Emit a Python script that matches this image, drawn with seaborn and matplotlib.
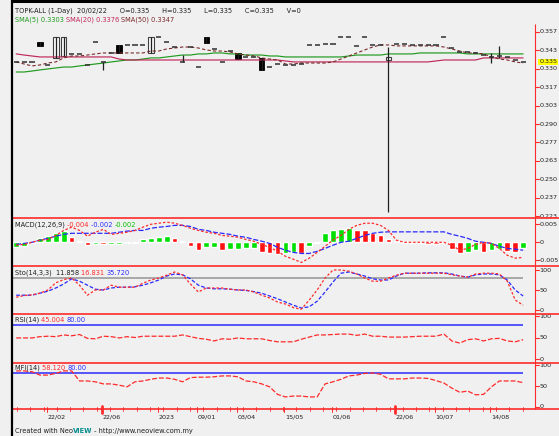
import numpy as np
import matplotlib
matplotlib.use("Agg")
import matplotlib.pyplot as plt
import matplotlib.transforms as mtransforms
import seaborn as sns

sns.set_style("white")
plt.rcParams['font.family'] = ['DejaVu Sans']

W, H = 559, 436
BG = '#f0f0f0'
RED = '#ff2a2a'
BLUE = '#2a2aff'

# ---- price data (one bar per trading day) ----
open_ = [0.3350, 0.3350, 0.3350, 0.3495, 0.3328, 0.3379, 0.3393, 0.3408, 0.3408, 0.3328,
         0.3495, 0.3350, 0.3415, 0.3473, 0.3473, 0.3473, 0.3473, 0.3415, 0.3531, 0.3495,
         0.3458, 0.3350, 0.3458, 0.3313, 0.3531, 0.3444, 0.3350, 0.3429, 0.3415, 0.3386,
         0.3386, 0.3379, 0.3313, 0.3335, 0.3328, 0.3328, 0.3335, 0.3473, 0.3473, 0.3480,
         0.3480, 0.3531, 0.3531, 0.3466, 0.3531, 0.3473, 0.3473, 0.3364, 0.3480, 0.3480,
         0.3473, 0.3473, 0.3473, 0.3473, 0.3531, 0.3451, 0.3422, 0.3422, 0.3415, 0.3400,
         0.3386, 0.3393, 0.3386, 0.3364, 0.3350]
high = [0.3350, 0.3350, 0.3350, 0.3495, 0.3328, 0.3531, 0.3531, 0.3408, 0.3408, 0.3328,
        0.3495, 0.3350, 0.3415, 0.3473, 0.3473, 0.3473, 0.3473, 0.3531, 0.3531, 0.3495,
        0.3458, 0.3400, 0.3458, 0.3313, 0.3531, 0.3444, 0.3350, 0.3429, 0.3415, 0.3386,
        0.3386, 0.3379, 0.3313, 0.3335, 0.3328, 0.3328, 0.3335, 0.3473, 0.3473, 0.3480,
        0.3480, 0.3531, 0.3531, 0.3466, 0.3531, 0.3473, 0.3473, 0.3458, 0.3480, 0.3480,
        0.3473, 0.3473, 0.3473, 0.3473, 0.3531, 0.3451, 0.3422, 0.3422, 0.3415, 0.3400,
        0.3415, 0.3466, 0.3386, 0.3364, 0.3350]
low = [0.3350, 0.3350, 0.3350, 0.3466, 0.3328, 0.3379, 0.3393, 0.3408, 0.3408, 0.3328,
       0.3495, 0.3292, 0.3415, 0.3415, 0.3473, 0.3473, 0.3473, 0.3415, 0.3531, 0.3495,
       0.3458, 0.3350, 0.3458, 0.3313, 0.3487, 0.3444, 0.3350, 0.3429, 0.3371, 0.3386,
       0.3386, 0.3292, 0.3313, 0.3335, 0.3328, 0.3328, 0.3335, 0.3473, 0.3473, 0.3480,
       0.3480, 0.3531, 0.3531, 0.3466, 0.3531, 0.3473, 0.3473, 0.2263, 0.3480, 0.3480,
       0.3473, 0.3473, 0.3473, 0.3473, 0.3531, 0.3451, 0.3422, 0.3422, 0.3415, 0.3400,
       0.3342, 0.3379, 0.3386, 0.3364, 0.3350]
close = [0.3350, 0.3350, 0.3350, 0.3466, 0.3328, 0.3531, 0.3531, 0.3408, 0.3408, 0.3328,
         0.3495, 0.3350, 0.3415, 0.3415, 0.3473, 0.3473, 0.3473, 0.3531, 0.3531, 0.3495,
         0.3458, 0.3350, 0.3458, 0.3313, 0.3487, 0.3444, 0.3350, 0.3429, 0.3371, 0.3386,
         0.3386, 0.3292, 0.3313, 0.3335, 0.3328, 0.3328, 0.3335, 0.3473, 0.3473, 0.3480,
         0.3480, 0.3531, 0.3531, 0.3466, 0.3531, 0.3473, 0.3473, 0.3386, 0.3480, 0.3480,
         0.3473, 0.3473, 0.3473, 0.3473, 0.3531, 0.3451, 0.3422, 0.3422, 0.3415, 0.3400,
         0.3386, 0.3393, 0.3386, 0.3364, 0.3350]

ma_green = [0.3277, 0.3277, 0.3284, 0.3292, 0.3299, 0.3306, 0.3313, 0.3313, 0.3321, 0.3328,
            0.3335, 0.3342, 0.3350, 0.3357, 0.3364, 0.3364, 0.3371, 0.3379, 0.3379, 0.3386,
            0.3393, 0.3400, 0.3400, 0.3408, 0.3408, 0.3415, 0.3415, 0.3408, 0.3408, 0.3400,
            0.3400, 0.3400, 0.3393, 0.3393, 0.3386, 0.3386, 0.3386, 0.3386, 0.3386, 0.3386,
            0.3386, 0.3386, 0.3393, 0.3400, 0.3400, 0.3400, 0.3400, 0.3408, 0.3408, 0.3408,
            0.3408, 0.3415, 0.3415, 0.3415, 0.3415, 0.3415, 0.3415, 0.3408, 0.3408, 0.3408,
            0.3408, 0.3408, 0.3408, 0.3408, 0.3408]
ma_crimson = [0.3408, 0.3400, 0.3393, 0.3386, 0.3386, 0.3386, 0.3386, 0.3386, 0.3386, 0.3386,
              0.3386, 0.3386, 0.3386, 0.3371, 0.3364, 0.3364, 0.3364, 0.3364, 0.3364, 0.3364,
              0.3364, 0.3364, 0.3364, 0.3364, 0.3364, 0.3364, 0.3364, 0.3364, 0.3364, 0.3364,
              0.3364, 0.3364, 0.3364, 0.3364, 0.3357, 0.3350, 0.3350, 0.3350, 0.3350, 0.3350,
              0.3350, 0.3350, 0.3350, 0.3350, 0.3350, 0.3350, 0.3350, 0.3350, 0.3350, 0.3350,
              0.3350, 0.3350, 0.3350, 0.3357, 0.3364, 0.3364, 0.3364, 0.3364, 0.3364, 0.3379,
              0.3379, 0.3379, 0.3379, 0.3379, 0.3379]
ma_maroon = [0.3350, 0.3335, 0.3321, 0.3328, 0.3342, 0.3350, 0.3379, 0.3393, 0.3393, 0.3400,
             0.3408, 0.3415, 0.3415, 0.3415, 0.3415, 0.3415, 0.3415, 0.3429, 0.3429, 0.3444,
             0.3451, 0.3458, 0.3458, 0.3451, 0.3437, 0.3429, 0.3429, 0.3422, 0.3408, 0.3400,
             0.3393, 0.3379, 0.3371, 0.3364, 0.3335, 0.3335, 0.3342, 0.3342, 0.3342, 0.3342,
             0.3350, 0.3371, 0.3393, 0.3415, 0.3437, 0.3458, 0.3473, 0.3473, 0.3466, 0.3466,
             0.3466, 0.3466, 0.3466, 0.3466, 0.3458, 0.3444, 0.3429, 0.3415, 0.3415, 0.3408,
             0.3386, 0.3371, 0.3364, 0.3350, 0.3342]

price_ticks = [0.3567, 0.3433, 0.3300, 0.3167, 0.3033, 0.2900, 0.2767, 0.2633, 0.2500, 0.2367, 0.2233]

# ---- MACD (values in thousandths) ----
macd_k = [-0.8, -0.6, 0.0, 0.6, 0.8, 1.9, 3.3, 4.2, 3.3, 1.7,
          2.8, 3.6, 2.2, 2.5, 2.8, 3.3, 4.2, 5.0, 5.3, 5.6,
          5.3, 4.7, 3.9, 3.3, 2.8, 2.5, 1.9, 1.7, 1.4, 0.8,
          0.3, -0.6, -1.4, -2.5, -3.9, -4.7, -5.6, -4.4, -2.8, -1.1,
          0.6, 1.9, 3.6, 4.7, 5.3, 5.3, 4.7, 3.3, 0.6, 0.0,
          0.0, 0.0, 0.0, 0.0, 0.0, -0.8, -2.2, -1.7, -0.6, 0.0,
          -0.3, -1.7, -3.6, -4.4, -4.2]
signal_k = [-0.6, -0.3, 0.0, 0.6, 1.1, 1.7, 2.2, 2.5, 2.5, 2.5,
            2.5, 2.5, 2.5, 2.8, 3.1, 3.3, 3.3, 3.9, 4.2, 4.4,
            4.7, 4.7, 4.4, 3.6, 3.3, 2.8, 2.5, 2.2, 1.7, 1.4,
            0.8, 0.3, -0.3, -1.4, -2.2, -2.8, -3.1, -3.1, -2.5, -1.7,
            -0.8, 0.0, 0.3, 1.1, 1.9, 2.5, 2.8, 2.9, 2.9, 2.9,
            2.9, 2.9, 2.9, 2.9, 2.9, 2.2, 1.7, 1.1, 0.3, 0.0,
            -0.3, -1.1, -1.7, -1.9, -2.2]
hist_k = [-1.4, -1.1, -0.3, 1.1, 1.7, 2.5, 3.1, 1.4, 0.3, -0.8,
          -0.4, -0.5, -0.4, -0.35, -0.3, -0.25, 0.8, 1.1, 1.4, 1.7,
          1.1, 0.3, -1.1, -2.2, -1.4, -1.2, -2.1, -1.9, -1.8, -1.7,
          -1.6, -2.8, -3.1, -3.3, -2.9, -2.8, -3.1, -1.1, -0.3, 2.5,
          3.3, 3.8, 3.9, 3.4, 3.3, 2.5, 1.9, 0.8, 0.4, -0.3,
          -0.2, -0.3, -0.4, -0.5, -0.3, -1.9, -3.1, -2.8, -2.2, -2.8,
          -2.2, -1.9, -2.5, -2.6, -1.7]

# ---- Stochastic, RSI, MFI ----
stoch_k = [32, 36, 38, 42, 50, 68, 76, 80, 62, 37,
           50, 50, 62, 57, 57, 57, 67, 75, 80, 87,
           95, 88, 65, 45, 55, 55, 55, 52, 50, 50,
           45, 37, 30, 20, 15, 6, 2, 25, 50, 80,
           100, 100, 97, 90, 80, 72, 72, 80, 87, 92,
           92, 92, 92, 92, 92, 88, 85, 82, 90, 92,
           92, 90, 72, 25, 11.9]
stoch_d = [37, 37, 37, 42, 47, 55, 65, 78, 72, 62,
           52, 50, 55, 57, 57, 58, 62, 68, 75, 85,
           90, 88, 78, 62, 55, 53, 53, 52, 50, 49,
           46, 42, 35, 28, 20, 12, 5, 8, 22, 45,
           70, 92, 95, 90, 85, 78, 75, 75, 85, 92,
           92, 92, 93, 93, 93, 90, 85, 82, 88, 90,
           90, 88, 75, 50, 35]
rsi = [49, 49, 49, 52, 53, 52, 56, 54, 57, 48,
       47, 53, 52, 49, 52, 50, 53, 53, 53, 53,
       53, 56, 52, 48, 46, 42, 47, 46, 49, 47,
       47, 47, 43, 40, 40, 40, 46, 51, 56, 56,
       57, 58, 58, 55, 58, 53, 53, 51, 51, 51,
       52, 53, 53, 53, 58, 42, 37, 45, 47, 42,
       47, 48, 42, 40, 45]
mfi = [86, 86, 84, 76, 76, 80, 86, 86, 62, 62,
       60, 55, 55, 52, 48, 60, 62, 66, 69, 69,
       66, 60, 70, 71, 71, 72, 74, 74, 72, 62,
       60, 55, 48, 30, 24, 26, 26, 24, 24, 55,
       60, 66, 74, 76, 80, 81, 78, 67, 67, 67,
       69, 69, 68, 63, 57, 45, 35, 38, 29, 30,
       48, 62, 62, 62, 58]

date_ticks = [4, 11, 18, 23, 28, 34, 40, 48, 53, 60]
date_labels = ["22/02", "22/06", "2023", "09/01", "03/04", "15/05", "01/06", "22/06", "10/07", "14/08"]
bold_ticks = [11, 48]

idx = np.arange(len(close))
o, h, l, c = map(np.array, (open_, high, low, close))

fig = plt.figure(figsize=(W / 100, H / 100), dpi=100, facecolor=BG)


def panel(top, bottom, left=13, right=535):
    ax = fig.add_axes([left / W, 1 - bottom / H, (right - left) / W, (bottom - top) / H])
    ax.set_facecolor(BG)
    for s in ax.spines.values():
        s.set_visible(False)
    ax.set_xticks([])
    ax.set_yticks([])
    ax.set_xlim(-0.4, 65.5)
    return ax


def right_labels(ax, vals, labels):
    tr = mtransforms.blended_transform_factory(ax.transAxes, ax.transData)
    for v, s in zip(vals, labels):
        ax.plot([1.0, 1.007], [v, v], color=RED, lw=0.8, transform=tr, clip_on=False)
        ax.text(1.008, v, s, transform=tr, fontsize=4.6, va='center', ha='left', color='#202020')


ax_p = panel(3, 218)
ax_m = panel(218, 266)
ax_s = panel(266, 314)
ax_r = panel(314, 362.7)
ax_f = panel(362.7, 409.3)

# ---- price panel ----
ax_p.set_ylim(0.2219, 0.3777)
sns.lineplot(x=idx, y=ma_green, ax=ax_p, color='#1f9a1f', lw=0.85, legend=False)
sns.lineplot(x=idx, y=ma_crimson, ax=ax_p, color='#c0285a', lw=0.85, legend=False)
sns.lineplot(x=idx, y=ma_maroon, ax=ax_p, color='#7a2a2a', lw=0.8, linestyle=(0, (3, 2)), legend=False)

wick = h > l
ax_p.vlines(idx[wick], l[wick], h[wick], color='#202020', lw=0.9)
flat = o == c
ax_p.hlines(c[flat], idx[flat] - 0.32, idx[flat] + 0.32, color='#303030', lw=1.1)
down = c < o
ax_p.bar(idx[down], (o - c)[down], bottom=c[down], width=0.7, color='black', edgecolor='black', lw=0.6)
up = c > o
ax_p.bar(idx[up], (c - o)[up], bottom=o[up], width=0.7, color='#fafafa', edgecolor='#404040', lw=0.8)

right_labels(ax_p, price_ticks, ["%.3f" % v for v in price_ticks])
trp = mtransforms.blended_transform_factory(ax_p.transAxes, ax_p.transData)
ax_p.text(1.008, c[-1], "%.3f" % c[-1], transform=trp, fontsize=4.6, va='center', ha='left',
          color='#202020', bbox=dict(facecolor='#ffff00', edgecolor='none', pad=0.6))

# ---- MACD panel ----
ax_m.set_ylim(-0.00658, 0.00675)
hist = np.array(hist_k) / 1000
rising = np.concatenate([[True], np.diff(hist) >= 0])
ax_m.bar(idx, hist, width=0.72, color=np.where(rising, '#00e000', '#ff1010'))
sns.lineplot(x=idx, y=np.array(signal_k) / 1000, ax=ax_m, color=BLUE, lw=0.9,
             linestyle=(0, (4, 1.5)), legend=False)
sns.lineplot(x=idx, y=np.array(macd_k) / 1000, ax=ax_m, color=RED, lw=0.9,
             linestyle=(0, (2, 1.5)), legend=False)
right_labels(ax_m, [0.005, 0.0, -0.005], ["0.005", "0", "-0.005"])

# ---- Stochastic ----
ax_s.set_ylim(-10, 110)
ax_s.hlines(80, -0.4, 64, color='#a8a8a8', lw=1.4)
sns.lineplot(x=idx, y=stoch_d, ax=ax_s, color=BLUE, lw=0.9, linestyle=(0, (3, 1.5)), legend=False)
sns.lineplot(x=idx, y=stoch_k, ax=ax_s, color=RED, lw=0.9, linestyle=(0, (2, 1.5)), legend=False)
right_labels(ax_s, [100, 50, 0], ["100", "50", "0"])

# ---- RSI ----
ax_r.set_ylim(-8.6, 104.7)
ax_r.hlines(80, -0.4, 64, color=BLUE, lw=1.1)
sns.lineplot(x=idx, y=rsi, ax=ax_r, color=RED, lw=0.9, linestyle=(0, (4, 1.5)), legend=False)
right_labels(ax_r, [100, 50, 0], ["100", "50", "0"])

# ---- MFI ----
ax_f.set_ylim(-5.5, 105.5)
ax_f.hlines(80, -0.4, 64, color=BLUE, lw=1.1)
sns.lineplot(x=idx, y=mfi, ax=ax_f, color=RED, lw=0.9, linestyle=(0, (4, 1.5)), legend=False)
right_labels(ax_f, [100, 50, 0], ["100", "50", "0"])

# date axis
trf = mtransforms.blended_transform_factory(ax_f.transData, ax_f.transAxes)
for x in np.arange(0.1, 65, 1.68):
    ax_f.plot([x, x], [-0.045, 0.045], color=RED, lw=0.6, transform=trf, clip_on=False)
for t, s in zip(date_ticks, date_labels):
    x = t - 0.15
    ax_f.plot([x, x], [-0.06, 0.06], color=RED, lw=0.7, transform=trf, clip_on=False)
    ax_f.text(x + 0.1, -0.12, s, transform=trf, fontsize=4.6, ha='left', va='top', color='#202020')
for t in bold_ticks:
    ax_f.plot([t - 0.15, t - 0.15], [-0.07, 0.07], color=RED, lw=2.0, transform=trf, clip_on=False)

# ---- frame, separators and header texts (pixel overlay) ----
ov = fig.add_axes([0, 0, 1, 1], zorder=10)
ov.set_xlim(0, W)
ov.set_ylim(H, 0)
ov.axis('off')
ov.patch.set_alpha(0)

ov.hlines([218, 266, 314, 362.7, 409.3], 13, W, color=RED, lw=1.2)
ov.vlines(535, 24, 409.3, color=RED, lw=0.8)
ov.vlines(12, 0, H, color='black', lw=1.6)
ov.hlines(1.5, 12, W, color='black', lw=2.2)

renderer = fig.canvas.get_renderer()


def seq_text(x, y, parts, size=4.8):
    for s, col, wt in parts:
        t = ov.text(x, y, s, color=col, fontsize=size, fontweight=wt, va='center', ha='left')
        x += t.get_window_extent(renderer=renderer).width


seq_text(15, 11, [("TOPK-ALL (1-Day)  20/02/22      O=0.335      H=0.335      L=0.335      C=0.335      V=0",
                   '#202020', 'normal')])
seq_text(15, 20, [("SMA(5) 0.3303 ", '#1f9a1f', 'normal'), ("SMA(20) 0.3376 ", '#c0285a', 'normal'),
                  ("SMA(50) 0.3347", '#7a2a2a', 'normal')])
seq_text(15, 225, [("MACD(12,26,9) ", '#202020', 'normal'), ("-0.004 ", RED, 'normal'),
                   ("-0.002 ", BLUE, 'normal'), ("-0.002", '#00c000', 'normal')])
seq_text(15, 273, [("Sto(14,3,3)  11.858 ", '#202020', 'normal'), ("16.831 ", RED, 'normal'),
                   ("35.720", BLUE, 'normal')])
seq_text(15, 320, [("RSI(14) ", '#202020', 'normal'), ("45.004 ", RED, 'normal'), ("80.00", BLUE, 'normal')])
seq_text(15, 368, [("MFI(14) ", '#202020', 'normal'), ("58.120 ", RED, 'normal'), ("80.00", BLUE, 'normal')])
seq_text(15, 431, [("Created with Neo", '#202020', 'normal'), ("VIEW", '#008c8c', 'bold'),
                   (" - http://www.neoview.com.my", '#202020', 'normal')])

fig.savefig('out.png', dpi=100, facecolor=BG)
